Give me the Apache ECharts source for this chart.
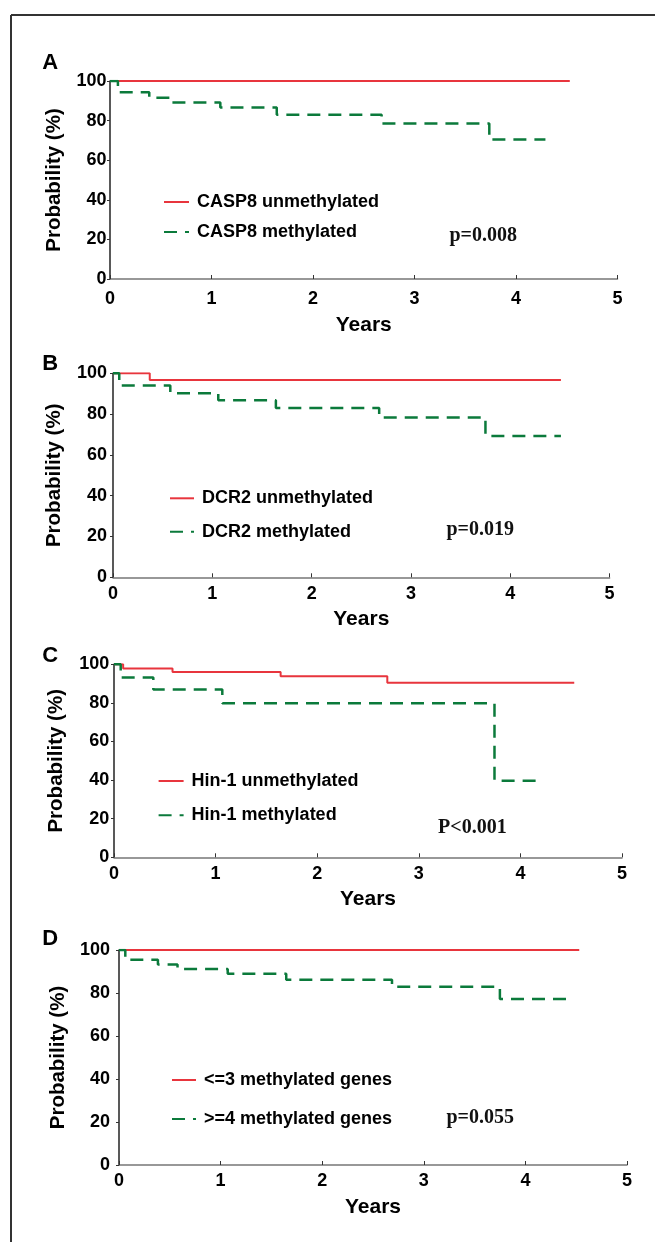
<!DOCTYPE html>
<html>
<head>
<meta charset="utf-8">
<script src="https://cdn.jsdelivr.net/npm/echarts@6/dist/echarts.min.js"></script>
<style>
  html, body { margin: 0; padding: 0; background: #fff; }
  #chart { width: 655px; height: 1242px; }
</style>
</head>
<body>
<div id="chart"></div>
<script>
// panel A - CASP8
var casp8UnmethT = [0, 4.53];
var casp8UnmethP = [100, 100];
var casp8MethT = [0, 0.078, 0.387, 0.585, 1.087, 1.643, 2.676, 3.737, 4.29];
var casp8MethP = [100, 94.3, 91.6, 89.1, 86.6, 83.0, 78.5, 70.4, 70.4];

// panel B - DCR2
var dcr2UnmethT = [0, 0.37, 4.51];
var dcr2UnmethP = [100, 96.7, 96.7];
var dcr2MethT = [0, 0.063, 0.577, 1.06, 1.64, 2.68, 3.75, 4.51];
var dcr2MethP = [100, 94.0, 90.2, 86.8, 83.0, 78.3, 69.3, 69.3];

// panel C - Hin-1
var hin1UnmethT = [0, 0.09, 0.576, 1.64, 2.69, 4.53];
var hin1UnmethP = [100, 97.8, 96.0, 93.8, 90.5, 90.5];
var hin1MethT = [0, 0.066, 0.387, 1.066, 3.745, 4.21];
var hin1MethP = [100, 93.1, 86.9, 79.8, 39.7, 39.7];

// panel D - number of methylated genes
var low3T = [0, 4.53];
var low3P = [100, 100];
var high4T = [0, 0.062, 0.383, 0.576, 1.07, 1.646, 2.687, 3.749, 4.44];
var high4P = [100, 95.5, 93.3, 91.2, 89.0, 86.2, 82.9, 77.2, 77.2];

var panelLetters = ['A', 'B', 'C', 'D'];
var pValues = ['p=0.008', 'p=0.019', 'P<0.001', 'p=0.055'];
var legendNames = [
  ['CASP8 unmethylated', 'CASP8 methylated'],
  ['DCR2 unmethylated', 'DCR2 methylated'],
  ['Hin-1 unmethylated', 'Hin-1 methylated'],
  ['<=3 methylated genes', '>=4 methylated genes']
];
var curves = [
  [[casp8UnmethT, casp8UnmethP], [casp8MethT, casp8MethP]],
  [[dcr2UnmethT, dcr2UnmethP], [dcr2MethT, dcr2MethP]],
  [[hin1UnmethT, hin1UnmethP], [hin1MethT, hin1MethP]],
  [[low3T, low3P], [high4T, high4P]]
];

// layout of each panel (pixels)
var grids = [
  {left: 110, top: 81, width: 507.5, height: 198},
  {left: 113, top: 373.3, width: 496.6, height: 204},
  {left: 114, top: 664.3, width: 508, height: 193},
  {left: 119, top: 950, width: 508, height: 215}
];
var legendPos = [
  {left: 158, top: 187, gap: 10, w: 25},
  {left: 164, top: 483.3, gap: 13.4, w: 24},
  {left: 152.6, top: 766, gap: 14.3, w: 25},
  {left: 166, top: 1065, gap: 19, w: 24}
];
var letterPos = [[50.2, 62.5], [50.2, 364], [50.2, 656], [50.2, 939]];
var pPos = [[449.4, 236], [446.5, 530], [438.1, 827.5], [446.5, 1117.5]];
var xNameGap = [36, 31.5, 31.5, 32];
var xLabelMargin = [11, 7.5, 7.5, 7.5];
var yNameGap = [45, 48, 47, 42];
var yLabelMargin = [3.5, 6, 4.7, 9];

var RED = '#e8353d';
var GREEN = '#0b7a3b';
var FONT = '"Liberation Sans", Arial, sans-serif';

var myChart = echarts.init(document.getElementById('chart'));

var xAxes = [], yAxes = [], series = [], legends = [], graphics = [];

// outer frame (left and top edges)
graphics.push({type: 'line', shape: {x1: 11, y1: 15, x2: 11, y2: 1242}, style: {stroke: '#333', lineWidth: 2}});
graphics.push({type: 'line', shape: {x1: 11, y1: 15, x2: 655, y2: 15}, style: {stroke: '#333', lineWidth: 2}});

for (var i = 0; i < 4; i++) {
  xAxes.push({
    gridIndex: i, type: 'value', min: 0, max: 5, interval: 1,
    name: 'Years', nameLocation: 'middle', nameGap: xNameGap[i],
    nameTextStyle: {fontFamily: FONT, fontSize: 21, fontWeight: 'bold', color: '#000'},
    axisLine: {onZero: false, lineStyle: {color: '#777', width: 1.5}},
    axisTick: {inside: true, length: 4, lineStyle: {color: '#333', width: 1}},
    axisLabel: {fontFamily: FONT, fontSize: 18, fontWeight: 'bold', color: '#000', margin: xLabelMargin[i]},
    splitLine: {show: false}
  });
  yAxes.push({
    gridIndex: i, type: 'value', min: 0, max: 100, interval: 20,
    name: 'Probability (%)', nameLocation: 'middle', nameGap: yNameGap[i], nameRotate: 90,
    nameTextStyle: {fontFamily: FONT, fontSize: 20.5, fontWeight: 'bold', color: '#000'},
    axisLine: {show: true, lineStyle: {color: '#222', width: 1.5}},
    axisTick: {show: true, length: 3, lineStyle: {color: '#333', width: 1}},
    axisLabel: {fontFamily: FONT, fontSize: 18, fontWeight: 'bold', color: '#000', margin: yLabelMargin[i]},
    splitLine: {show: false}
  });

  for (var k = 0; k < 2; k++) {
    var t = curves[i][k][0], p = curves[i][k][1];
    var pts = [];
    for (var j = 0; j < t.length; j++) pts.push([t[j], p[j]]);
    series.push({
      name: legendNames[i][k],
      type: 'line',
      xAxisIndex: i, yAxisIndex: i,
      step: 'end',
      symbol: 'none',
      data: pts,
      z: k === 0 ? 2 : 3,
      lineStyle: k === 0
        ? {color: RED, width: 2, type: 'solid'}
        : {color: GREEN, width: 2.5, type: [13, 8]},
      itemStyle: {color: k === 0 ? RED : GREEN},
      animation: false
    });
  }

  legends.push({
    data: legendNames[i],
    orient: 'vertical',
    left: legendPos[i].left, top: legendPos[i].top,
    itemGap: legendPos[i].gap,
    itemWidth: legendPos[i].w, itemHeight: 14,
    selectedMode: false,
    itemStyle: {opacity: 0},
    textStyle: {fontFamily: FONT, fontSize: 18, fontWeight: 'bold', color: '#000', lineHeight: 20, padding: [0, 0, 0, 3]}
  });

  graphics.push({
    type: 'text', x: letterPos[i][0], y: letterPos[i][1],
    style: {text: panelLetters[i], font: 'bold 22px ' + FONT, fill: '#000', align: 'center', verticalAlign: 'middle'}
  });
  graphics.push({
    type: 'text', x: pPos[i][0], y: pPos[i][1],
    style: {text: pValues[i], font: 'bold 20px "Liberation Serif", "Times New Roman", serif', fill: '#111', align: 'left', verticalAlign: 'middle'}
  });
}

var option = {
  backgroundColor: '#fff',
  animation: false,
  grid: grids,
  xAxis: xAxes,
  yAxis: yAxes,
  legend: legends,
  series: series,
  graphic: graphics
};
myChart.setOption(option);
</script>
</body>
</html>
